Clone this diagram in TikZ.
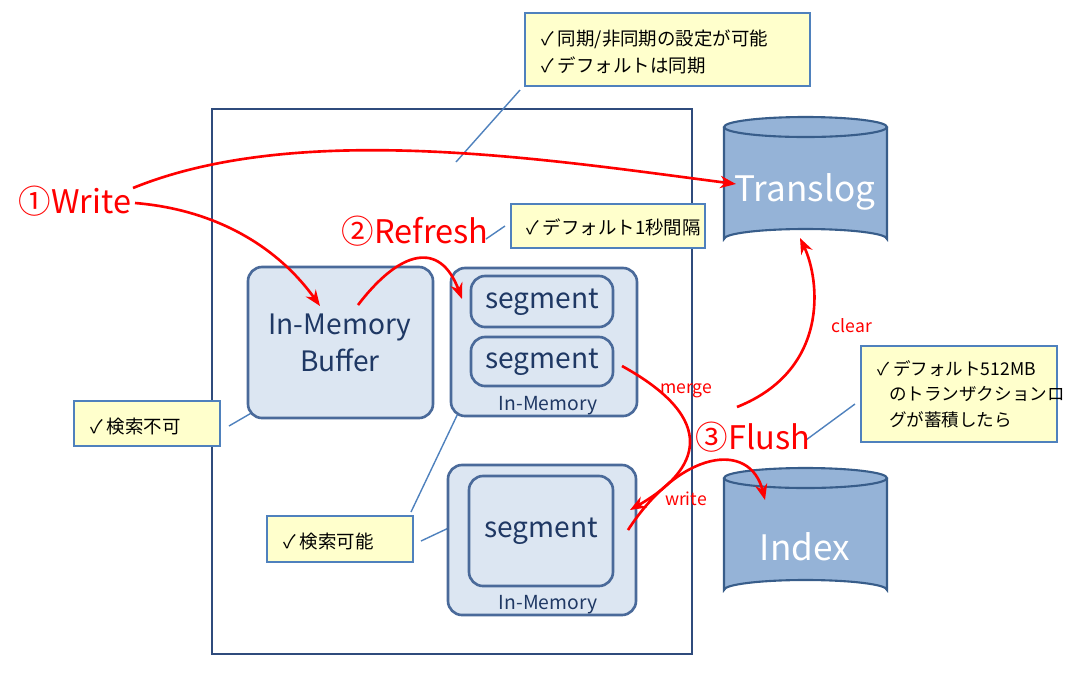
\documentclass[tikz,border=0pt]{standalone}
\usepackage{fontspec}
\setmainfont{Noto Sans CJK JP}
\usetikzlibrary{arrows.meta,shapes.geometric}
\definecolor{frame}{HTML}{2F4B7C}
\definecolor{cb}{HTML}{4F81BD}
\definecolor{cyl}{HTML}{95B3D7}
\definecolor{cylb}{HTML}{385D8A}
\definecolor{boxf}{HTML}{DCE6F2}
\definecolor{boxb}{HTML}{4A6A9A}
\definecolor{note}{HTML}{FFFFCC}
\definecolor{txt}{HTML}{1F3864}
\tikzset{
 callout/.style={draw=cb,fill=note,line width=0.8pt,inner sep=0pt},
 cline/.style={draw=cb,line width=0.8pt},
 rbox/.style={draw=boxb,fill=boxf,line width=1.5pt,rounded corners=8pt},
 rarrow/.style={draw=red,line width=1.5pt,-{Stealth[length=9pt,width=7pt]}},
 steplbl/.style={text=red,font=\fontsize{18.5}{22}\selectfont},
 smalllbl/.style={text=red,font=\fontsize{10}{12}\selectfont},
 ntxt/.style={font=\fontsize{10.5}{15}\selectfont,align=left,anchor=north west},
 big/.style={text=txt,font=\fontsize{16}{21}\selectfont,align=center},
}
\begin{document}
\begin{tikzpicture}[x=0.02cm,y=-0.02cm]
\useasboundingbox (0,0) rectangle (1080,674);
\draw[frame,line width=1.6pt] (212,109) rectangle (692,654);
% callouts
\draw[callout] (525,13) rectangle (810,86);
\node[ntxt] (c1) at (535,24) {✓ 同期/非同期の設定が可能\\✓ デフォルトは同期};
\coordinate (c1a) at (520,90); \coordinate (c1b) at (456,162);
\draw[cline] (c1a) -- (c1b);
\draw[callout] (511,204) rectangle (705,248);
\node[ntxt] (c2) at (520,213) {✓ デフォルト1秒間隔};
\coordinate (c2a) at (505,226); \coordinate (c2b) at (486,239);
\draw[cline] (c2a) -- (c2b);
\draw[callout] (74,401) rectangle (220,446);
\node[ntxt] (c3) at (84,412) {✓ 検索不可};
\coordinate (c3a) at (229,426); \coordinate (c3b) at (260,408);
\draw[cline] (c3a) -- (c3b);
\draw[callout] (267,516) rectangle (413,562);
\node[ntxt] (c4) at (277,527) {✓ 検索可能};
\coordinate (c4a) at (421,541); \coordinate (c4b) at (455,525);
\draw[cline] (c4a) -- (c4b);
\coordinate (c4c) at (411,512); \coordinate (c4d) at (461,407);
\draw[cline] (c4c) -- (c4d);
\draw[callout] (861,346) rectangle (1057,442);
\node[ntxt,font=\fontsize{10}{14.5}\selectfont] (c5) at (871,354) {✓ デフォルト512MB\\\ \ \ のトランザクションロ\\\ \ \ グが蓄積したら};
\coordinate (c5a) at (806,440); \coordinate (c5b) at (855,404);
\draw[cline] (c5a) -- (c5b);
% cylinders
\foreach \t in {117,468}{
 \fill[cyl] (724,\t+10) -- (724,\t+122) arc[start angle=180,end angle=360,x radius=81.5,y radius=10] -- (887,\t+10) -- cycle;
 \draw[cylb,line width=1.2pt] (724,\t+10) -- (724,\t+122) arc[start angle=180,end angle=360,x radius=81.5,y radius=10] -- (887,\t+10);
 \draw[cylb,line width=1.2pt,fill=cyl] (805.5,\t+10) ellipse[x radius=81.5,y radius=10];
}
\node[text=white,font=\fontsize{20}{24}\selectfont] (tl) at (805,192) {Translog};
\node[text=white,font=\fontsize{20}{24}\selectfont] (ix) at (805,547) {Index};
% boxes
\draw[rbox] (248,267) rectangle (433,418);
\node[big] (buf) at (340,343) {In-Memory\\Buffer};
\draw[rbox] (451,268) rectangle (637,416);
\draw[rbox] (471,276) rectangle (613,327);
\node[big] (s1) at (542,302) {segment};
\draw[rbox] (471,337) rectangle (613,386);
\node[big] (s2) at (542,362) {segment};
\node[text=txt,font=\fontsize{11}{13}\selectfont] (m1) at (548,406) {In-Memory};
\draw[rbox] (448,465) rectangle (636,615);
\draw[rbox] (469,476) rectangle (613,586);
\node[big] (s3) at (541,531) {segment};
\node[text=txt,font=\fontsize{11}{13}\selectfont] (m2) at (548,605) {In-Memory};
% labels
\node[steplbl] (w) at (75,201) {①Write};
\node[steplbl] (r) at (415,231) {②Refresh};
\node[steplbl] (f) at (753,437) {③Flush};
\node[smalllbl] (cl) at (852,326) {clear};
\node[smalllbl] (mg) at (686,391) {merge};
\node[smalllbl] (wr) at (686,499) {write};
% arrows
\coordinate (a1) at (133,188); \coordinate (a1e) at (736,184);
\draw[rarrow] (a1) .. controls (300,120) and (550,160) .. (a1e);
\coordinate (a2) at (135,203); \coordinate (a2e) at (320,306);
\draw[rarrow] (a2) .. controls (220,210) and (280,250) .. (a2e);
\coordinate (a3) at (358,305); \coordinate (a3e) at (462,299);
\draw[rarrow] (a3) .. controls (400,250) and (440,240) .. (a3e);
\coordinate (a4) at (622,366); \coordinate (a4e) at (630,510);
\draw[rarrow] (a4) .. controls (720,420) and (700,470) .. (a4e);
\coordinate (a5) at (628,530); \coordinate (a5e) at (765,500);
\draw[rarrow] (a5) .. controls (680,450) and (750,440) .. (a5e);
\coordinate (a6) at (737,407); \coordinate (a6e) at (800,238);
\draw[rarrow] (a6) .. controls (830,370) and (820,280) .. (a6e);
\end{tikzpicture}
\end{document}
